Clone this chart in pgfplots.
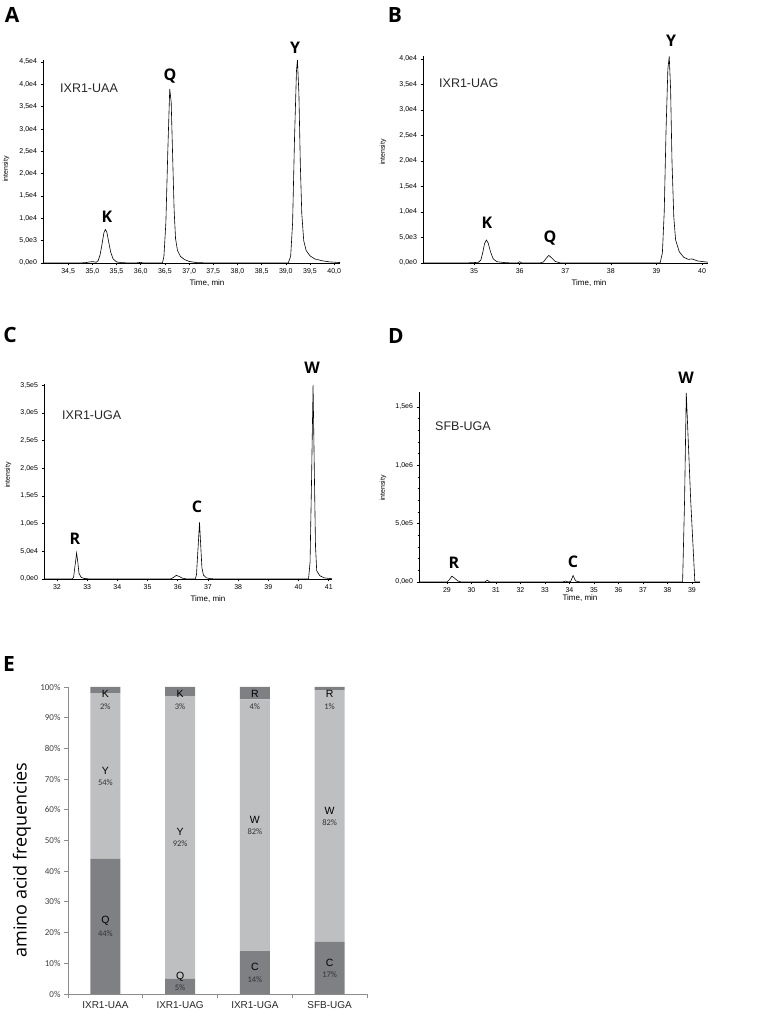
\documentclass[border=0pt]{standalone}
\usepackage{fontspec}
\setmainfont{Liberation Sans}
\newfontfamily\opensans{Open Sans}
\newfontfamily\carlito{Carlito}
\usepackage{pgfplots}
\pgfplotsset{compat=1.18}

\definecolor{bardark}{RGB}{127,128,131}
\definecolor{barlight}{RGB}{190,191,193}
\definecolor{axisgray}{RGB}{140,140,140}

\pgfplotsset{
  chrom/.style={
    scale only axis,
    anchor=south west,
    axis x line=bottom, axis y line=left,
    axis line style={-, line width=0.9pt},
    tick align=outside,
    major tick length=2.5pt,
    minor tick length=1.5pt,
    tick style={black, line width=0.6pt},
    tick label style={font=\fontsize{7}{8}\selectfont},
    scaled y ticks=false,
    ymin=0, clip=false,
    /pgf/number format/assume math mode=true,
  },
  trace/.style={black, line width=0.6pt, mark=none},
  ebox/.style={scale only axis, anchor=south west, at={(68pt,21pt)},
    width=299pt, height=307pt, xmin=-0.5, xmax=3.5, ymin=0, ymax=100},
}

\newcommand{\peak}[1]{{\opensans\bfseries\fontsize{16}{16}\selectfont #1}}
\newcommand{\panel}[1]{{\opensans\bfseries\fontsize{21}{21}\selectfont #1}}
\newcommand{\sample}[1]{{\fontsize{12.5}{13}\selectfont\color{black!85} #1}}
\newcommand{\aalab}[3]{\node[inner sep=0pt, font=\fontsize{10.5}{11}\selectfont] at (axis cs:#1,#2) {#3};}
\newcommand{\pclab}[3]{\node[inner sep=0pt, font=\carlito\fontsize{8.5}{9}\selectfont, text=black!80] at (axis cs:#1,#2) {#3};}

\begin{document}
\begin{tikzpicture}
\useasboundingbox (0pt,0pt) rectangle (756pt,1015pt);

% ---------- A ----------
\begin{axis}[chrom, at={(43pt,752pt)}, width=297pt, height=203.2pt,
  xmin=33.98, xmax=40.12, ymax=45500,
  xtick={34.5,35,35.5,36,36.5,37,37.5,38,38.5,39,39.5,40},
  xticklabels={{34,5},{35,0},{35,5},{36,0},{36,5},{37,0},{37,5},{38,0},{38,5},{39,0},{39,5},{40,0}},
  ytick={0,5000,10000,15000,20000,25000,30000,35000,40000,45000},
  yticklabels={{0,0e0},{5,0e3},{1,0e4},{1,5e4},{2,0e4},{2,5e4},{3,0e4},{3,5e4},{4,0e4},{4,5e4}},
]
\addplot[trace] coordinates {
(33.98,0) (34.5,0) (34.85,50) (34.95,250) (35.02,300) (35.08,150) (35.12,500)
(35.16,1800) (35.20,4200) (35.24,6800) (35.27,7500) (35.30,6900) (35.34,4600)
(35.38,2400) (35.43,900) (35.50,250) (35.6,60) (35.9,0) (36.0,150) (36.05,0)
(36.45,0) (36.48,1500) (36.52,9000) (36.56,25000) (36.60,39000) (36.63,36000)
(36.66,24000) (36.69,12000) (36.72,5500) (36.76,2800) (36.82,1500) (36.9,800)
(37.0,350) (37.15,100) (37.4,0) (39.05,0) (39.10,1500) (39.14,9000) (39.18,28000)
(39.22,43000) (39.24,45500) (39.27,38000) (39.30,22000) (39.33,11000) (39.37,5000)
(39.42,2800) (39.5,1600) (39.6,900) (39.75,500) (39.9,250) (40.12,100)
};
\end{axis}

% ---------- B ----------
\begin{axis}[chrom, at={(423pt,752pt)}, width=285pt, height=206.6pt,
  xmin=33.88, xmax=40.13, ymax=40500,
  xtick={35,36,37,38,39,40},
  ytick={0,5000,10000,15000,20000,25000,30000,35000,40000},
  yticklabels={{0,0e0},{5,0e3},{1,0e4},{1,5e4},{2,0e4},{2,5e4},{3,0e4},{3,5e4},{4,0e4}},
]
\addplot[trace] coordinates {
(33.88,0) (34.8,0) (35.0,80) (35.1,150) (35.15,600) (35.19,2000) (35.23,3800)
(35.27,4500) (35.31,3900) (35.36,2200) (35.42,800) (35.5,250) (35.7,50) (35.95,0)
(36.0,250) (36.05,0) (36.45,0) (36.52,200) (36.58,900) (36.64,1500) (36.70,1000)
(36.78,300) (36.9,0) (39.08,0) (39.13,2000) (39.17,10000) (39.21,26000) (39.25,38000)
(39.28,40500) (39.31,34000) (39.34,20000) (39.38,9000) (39.42,4500) (39.5,2200)
(39.6,1100) (39.7,700) (39.78,800) (39.9,400) (40.13,150)
};
\end{axis}

% ---------- C ----------
\begin{axis}[chrom, at={(44pt,436pt)}, width=287.8pt, height=195pt,
  xmin=31.57, xmax=41.1, ymax=352000,
  xtick={32,33,34,35,36,37,38,39,40,41},
  ytick={0,50000,100000,150000,200000,250000,300000,350000},
  yticklabels={{0,0e0},{5,0e4},{1,0e5},{1,5e5},{2,0e5},{2,5e5},{3,0e5},{3,5e5}},
]
\addplot[trace] coordinates {
(31.57,0) (32.5,0) (32.55,3000) (32.6,25000) (32.65,47000) (32.69,30000) (32.73,10000)
(32.8,3000) (32.9,1000) (33.1,0) (35.75,0) (35.85,2500) (35.95,6500) (36.05,4500)
(36.15,1500) (36.3,0) (36.58,0) (36.62,8000) (36.67,55000) (36.72,102000) (36.76,60000)
(36.80,20000) (36.85,7000) (36.95,2000) (37.1,500) (37.3,0) (40.33,0) (40.38,30000)
(40.43,180000) (40.48,350000) (40.52,200000) (40.56,60000) (40.6,15000) (40.7,6000)
(40.85,2000) (41.1,500)
};
\end{axis}

% ---------- D ----------
\begin{axis}[chrom, at={(419pt,433pt)}, width=281pt, height=190.2pt,
  xmin=27.86, xmax=39.33, ymax=1630000,
  xtick={29,30,31,32,33,34,35,36,37,38,39},
  ytick={0,500000,1000000,1500000},
  yticklabels={{0,0e0},{5,0e5},{1,0e6},{1,5e6}},
  minor y tick num=4,
]
\addplot[trace] coordinates {
(27.86,0) (29.0,0) (29.1,20000) (29.2,50000) (29.3,35000) (29.45,8000) (29.6,0)
(30.55,0) (30.65,15000) (30.75,0) (33.7,0) (33.85,8000) (33.95,0) (34.05,5000)
(34.15,55000) (34.25,10000) (34.35,3000) (34.5,0) (38.62,0) (38.7,700000)
(38.77,1620000) (38.95,700000) (39.12,0) (39.33,0)
};
\end{axis}

% ---------- E ----------
\begin{axis}[ebox,
  ybar stacked, bar width=30pt,
  axis x line=bottom, axis y line=left,
  axis line style={-, axisgray, line width=0.8pt},
  tick align=outside,
  tick style={axisgray, line width=0.8pt},
  xtick={0,1,2,3},
  xticklabels={IXR1-UAA,IXR1-UAG,IXR1-UGA,SFB-UGA},
  major x tick style={draw=none},
  minor xtick={-0.5,0.5,1.5,2.5,3.5},
  minor tick length=4pt,
  major tick length=4pt,
  xticklabel style={font=\fontsize{10}{11}\selectfont, text=black!85},
  ytick={0,10,20,30,40,50,60,70,80,90,100},
  yticklabels={0\%,10\%,20\%,30\%,40\%,50\%,60\%,70\%,80\%,90\%,100\%},
  yticklabel style={font=\carlito\fontsize{9}{10}\selectfont, text=black!75},
  clip=false,
]
\addplot[fill=bardark, draw=none] coordinates {(0,44) (1,5) (2,14) (3,17)};
\addplot[fill=barlight, draw=none] coordinates {(0,54) (1,92) (2,82) (3,82)};
\addplot[fill=bardark, draw=none] coordinates {(0,2) (1,3) (2,4) (3,1)};
\end{axis}

% labels inside the bars (overlay axis, same geometry)
\begin{axis}[ebox, hide axis, clip=false]
\aalab{0}{97.7}{K} \pclab{0}{93.5}{2\%}
\aalab{0}{72.6}{Y} \pclab{0}{68.7}{54\%}
\aalab{0}{23.8}{Q} \pclab{0}{19.5}{44\%}
\aalab{1}{97.7}{K} \pclab{1}{93.5}{3\%}
\aalab{1}{52.8}{Y} \pclab{1}{48.9}{92\%}
\aalab{1}{5.5}{Q}  \pclab{1}{2.0}{5\%}
\aalab{2}{97.7}{R} \pclab{2}{93.5}{4\%}
\aalab{2}{56.7}{W} \pclab{2}{52.8}{82\%}
\aalab{2}{8.8}{C}  \pclab{2}{4.6}{14\%}
\aalab{3}{97.7}{R} \pclab{3}{93.5}{1\%}
\aalab{3}{59.6}{W} \pclab{3}{55.7}{82\%}
\aalab{3}{10.1}{C} \pclab{3}{6.2}{17\%}
\end{axis}

% ---------- texts ----------
\node at (12pt,1000pt) {\panel{A}};
\node at (395pt,1000pt) {\panel{B}};
\node at (10pt,680pt) {\panel{C}};
\node at (396pt,679pt) {\panel{D}};
\node at (9pt,351pt) {\panel{E}};

\begin{scope}[every node/.style={font=\fontsize{7}{8}\selectfont, rotate=90}]
\node at (6pt,846pt) {intensity};
\node at (383pt,863pt) {intensity};
\node at (8pt,540pt) {intensity};
\node at (383pt,527pt) {intensity};
\end{scope}
\begin{scope}[every node/.style={font=\fontsize{8}{9}\selectfont}]
\node at (207pt,732pt) {Time, min};
\node at (589pt,732pt) {Time, min};
\node at (208pt,416pt) {Time, min};
\node at (580pt,417pt) {Time, min};
\end{scope}

\node[anchor=west, inner sep=0pt] at (60pt,927pt) {\sample{IXR1-UAA}};
\node[anchor=west, inner sep=0pt] at (439pt,932pt) {\sample{IXR1-UAG}};
\node[anchor=west, inner sep=0pt] at (62pt,600pt) {\sample{IXR1-UGA}};
\node[anchor=west, inner sep=0pt] at (435pt,589pt) {\sample{SFB-UGA}};

\node at (107pt,798pt) {\peak{K}};
\node at (170pt,939pt) {\peak{Q}};
\node at (295pt,967pt) {\peak{Y}};
\node at (487pt,792pt) {\peak{K}};
\node at (550pt,777pt) {\peak{Q}};
\node at (671pt,974pt) {\peak{Y}};
\node at (75pt,476pt) {\peak{R}};
\node at (197pt,508pt) {\peak{C}};
\node at (312pt,647pt) {\peak{W}};
\node at (454pt,452pt) {\peak{R}};
\node at (573pt,453pt) {\peak{C}};
\node at (686pt,637pt) {\peak{W}};

\node[rotate=90, font=\opensans\fontsize{18}{18}\selectfont] at (22pt,155pt) {amino acid frequencies};
\end{tikzpicture}
\end{document}
